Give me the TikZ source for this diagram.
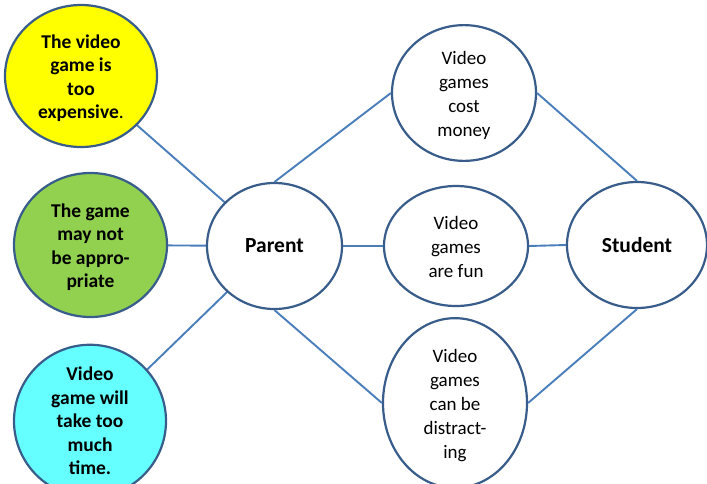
\documentclass[tikz,border=0pt]{standalone}
\usepackage{fontspec}
\setmainfont{Carlito}
\usetikzlibrary{shapes.geometric}
\definecolor{rim}{HTML}{385D8A}
\definecolor{link}{HTML}{4A7EBB}
\definecolor{yel}{HTML}{FFFF00}
\definecolor{grn}{HTML}{92D050}
\definecolor{cyn}{HTML}{66FFFF}
\newcommand{\lowtx}[1]{\raisebox{-3pt}[\height][\depth]{\begin{tabular}{@{}c@{}}#1\end{tabular}}}
\tikzset{
  bubble/.style={ellipse, draw=rim, line width=2.2pt, inner sep=0pt, align=center,
    font=\fontsize{19}{24}\selectfont, fill=white},
  boldbubble/.style={bubble, font=\fontsize{19.5}{23.5}\selectfont\bfseries},
  keybubble/.style={bubble, font=\fontsize{21.5}{24}\selectfont\bfseries},
  link/.style={draw=link, line width=1.9pt}
}
\begin{document}
\begin{tikzpicture}[x=1pt,y=-1pt]
\useasboundingbox (0,0) rectangle (707,483);
\path[link] (81,76) -- (274.5,246);
\path[link] (90.5,245) -- (274.5,246);
\path[link] (90,425) -- (274.5,246);
\node[boldbubble, fill=yel, minimum width=152pt, minimum height=142pt] (exp) at (81,76)
  {\lowtx{The video\\game is\\too\\expensive{\mdseries.}}};
\node[boldbubble, fill=grn, minimum width=153pt, minimum height=144pt] (app) at (90.5,245)
  {\lowtx{The game\\may not\\be appro-\\priate}};
\node[boldbubble, fill=cyn, minimum width=152pt, minimum height=148pt] (time) at (90,421)
  {Video\\game will\\take too\\much\\time.};
\node[keybubble, minimum width=135pt, minimum height=126pt] (parent) at (274.5,246) {Parent};
\node[bubble, minimum width=144pt, minimum height=120pt] (cost) at (464,93)
  {\lowtx{Video\\games\\cost\\money}};
\node[bubble, minimum width=144pt, minimum height=120pt] (fun) at (456,246)
  {\lowtx{Video\\games\\are fun}};
\node[bubble, minimum width=144pt, minimum height=126pt] (dist) at (455,403)
  {\lowtx{Video\\games\\can be\\distract-\\ing}};
\node[keybubble, minimum width=140pt, minimum height=126pt] (student) at (637,245) {Student};
\path[link] (parent.north) -- (cost.west);
\path[link] (parent.east) -- (fun.west);
\path[link] (parent.south) -- (dist.west);
\path[link] (cost.east) -- (student.north);
\path[link] (fun.east) -- (student.west);
\path[link] (dist.east) -- (student.south);
\end{tikzpicture}
\end{document}
